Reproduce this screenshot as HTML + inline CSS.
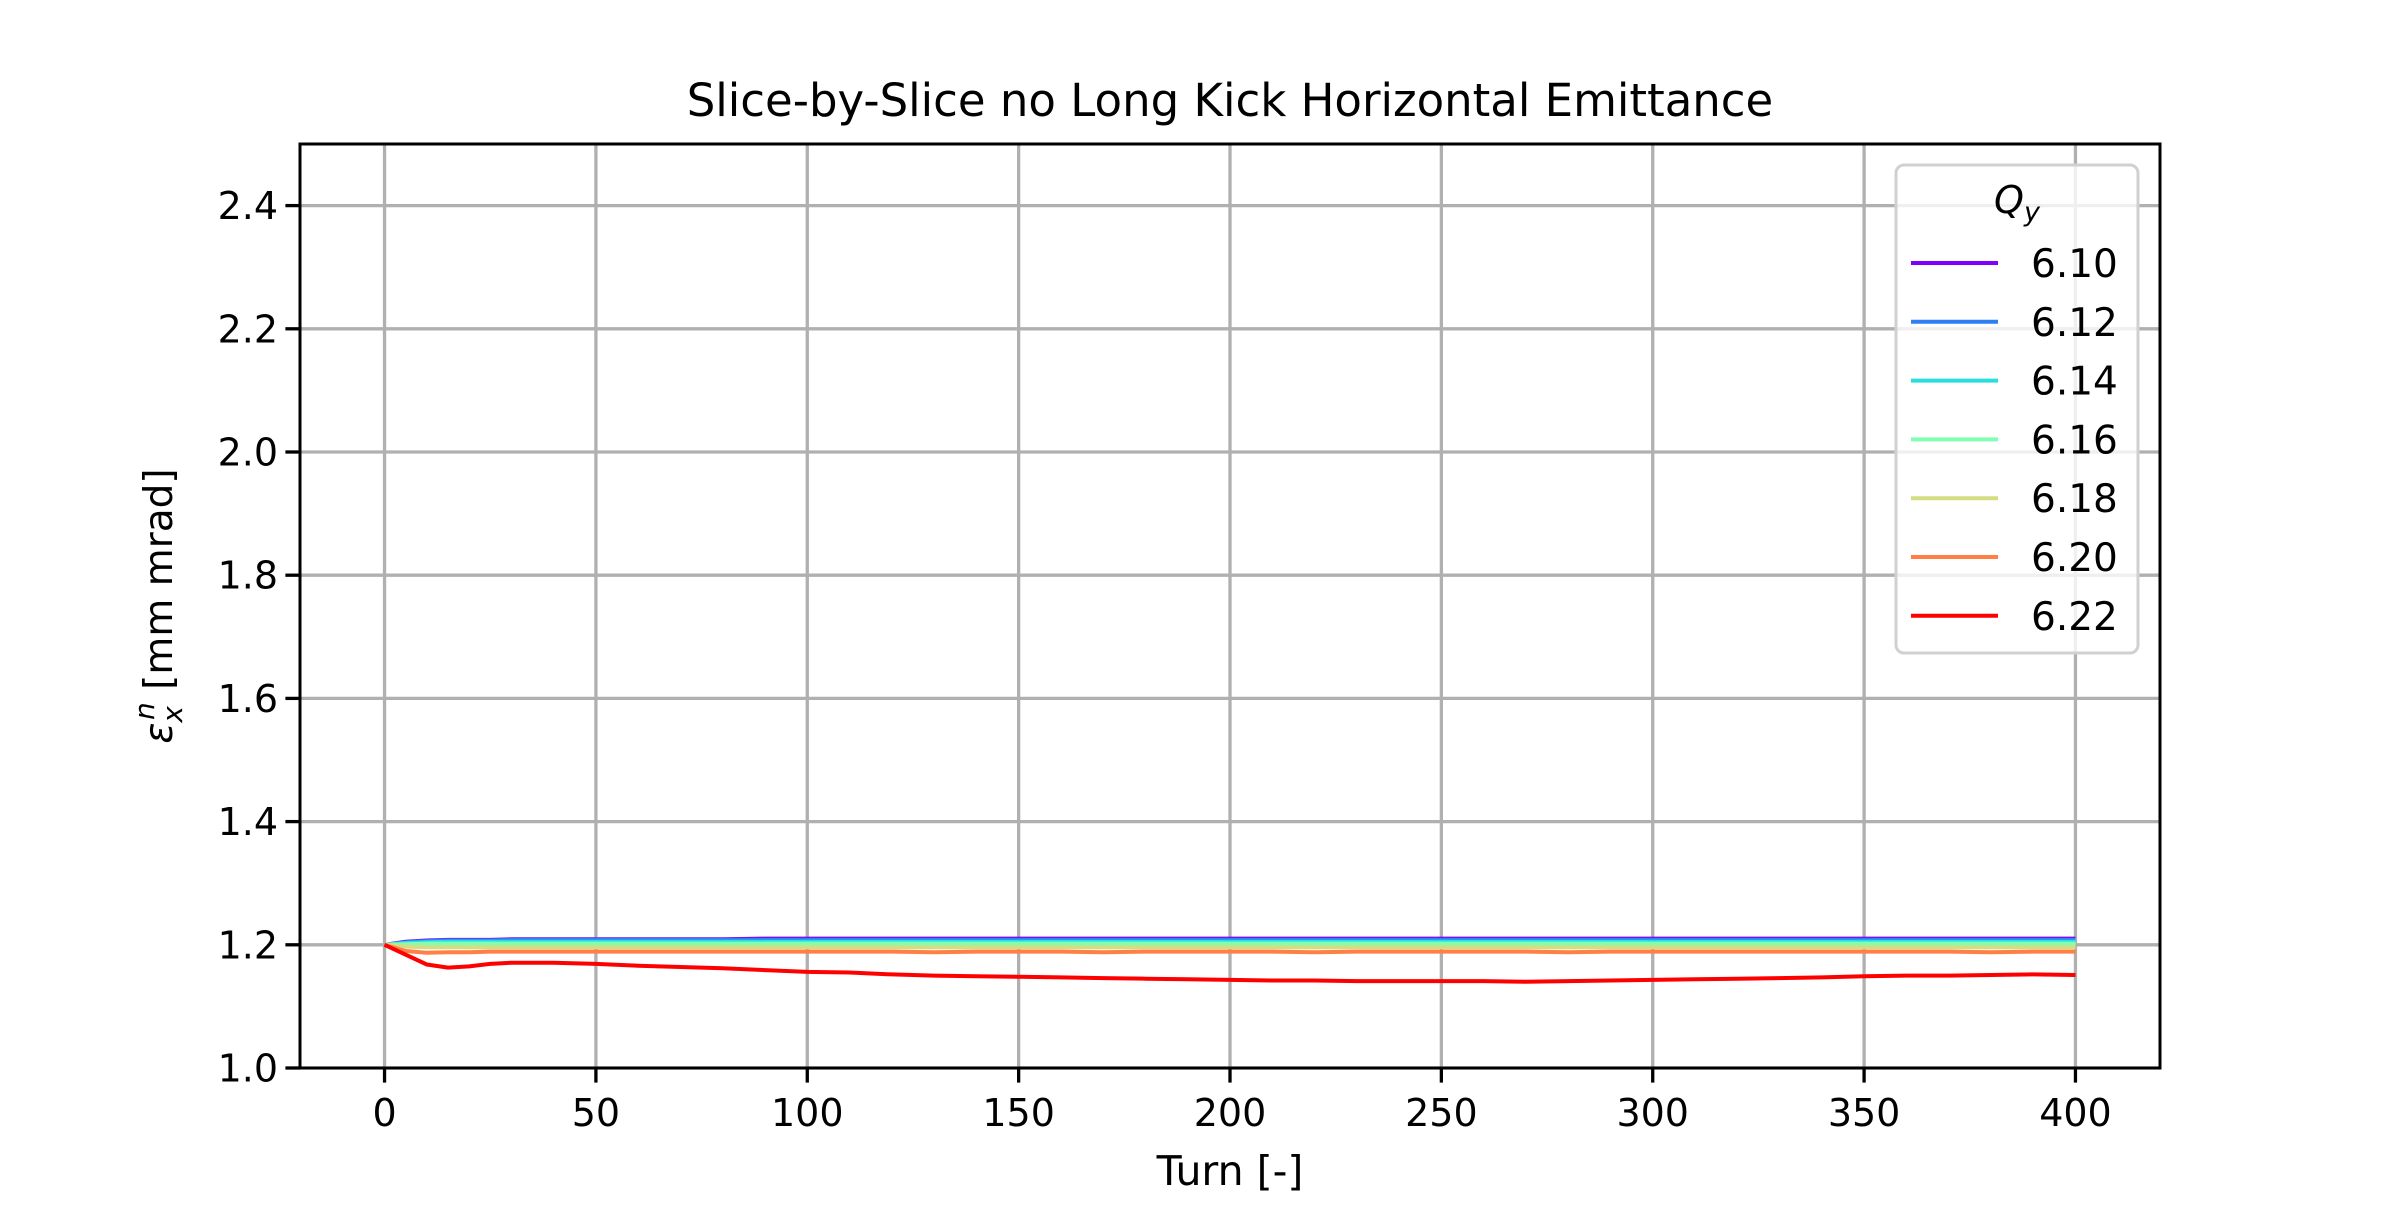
<!DOCTYPE html>
<html><head><meta charset="utf-8"><style>
html,body{margin:0;padding:0;background:#fff;}
svg text{font-family:"DejaVu Sans","Liberation Sans",sans-serif;fill:#000;}
</style></head><body>
<svg id="chart" width="2400" height="1200" viewBox="0 0 2400 1200" xmlns="http://www.w3.org/2000/svg">
<rect x="0" y="0" width="2400" height="1200" fill="#fff"/>
<g id="grid"></g>
<g id="series"></g>
<rect x="300" y="144" width="1860" height="924" fill="none" stroke="#000" stroke-width="3"/>
<g id="ticks"></g>
<text x="1230" y="116" font-size="45" text-anchor="middle">Slice-by-Slice no Long Kick Horizontal Emittance</text>
<text x="1230" y="1185" font-size="41" text-anchor="middle">Turn [-]</text>
<text transform="translate(172,606) rotate(-90)" font-size="39" text-anchor="middle"><tspan font-style="italic">ε</tspan><tspan font-style="italic" font-size="28" dy="10">x</tspan><tspan font-style="italic" font-size="28" dy="-28" dx="-14">n</tspan><tspan dy="18"> [mm mrad]</tspan></text>
<g id="legend">
<rect x="1896" y="165" width="242" height="488" rx="8" fill="#fff" fill-opacity="0.8" stroke="#d0d0d0" stroke-width="3"/>
<text x="2017" y="213" font-size="38" text-anchor="middle" font-style="italic">Q<tspan font-size="27" dy="8">y</tspan></text>
</g>
</svg>
<script>
const turns=[0,5,10,15,20,25,30,35,40,50,60,70,80,90,100,110,120,130,140,150,160,170,180,190,200,210,220,230,240,250,260,270,280,290,300,310,320,330,340,350,360,370,380,390,400];
const labels=["6.10","6.12","6.14","6.16","6.18","6.20","6.22"];
const colors=["#8000ff","#2f7ff3","#2adddd","#80ffb4","#d4dd80","#ff7f45","#ff0000"];
const s610=[1.2,1.205,1.207,1.208,1.208,1.208,1.209,1.209,1.209,1.209,1.209,1.209,1.209,1.21,1.21,1.21,1.21,1.21,1.21,1.21,1.21,1.21,1.21,1.21,1.21,1.21,1.21,1.21,1.21,1.21,1.21,1.21,1.21,1.21,1.21,1.21,1.21,1.21,1.21,1.21,1.21,1.21,1.21,1.21,1.21];
const s612=[1.2,1.204,1.206,1.207,1.207,1.207,1.208,1.208,1.208,1.208,1.208,1.208,1.208,1.208,1.208,1.208,1.208,1.208,1.208,1.208,1.208,1.208,1.208,1.208,1.208,1.208,1.208,1.208,1.208,1.208,1.208,1.208,1.208,1.208,1.208,1.208,1.208,1.208,1.208,1.208,1.208,1.208,1.208,1.208,1.208];
const s614=[1.2,1.203,1.204,1.205,1.205,1.205,1.205,1.205,1.205,1.205,1.205,1.205,1.205,1.205,1.205,1.205,1.205,1.205,1.205,1.205,1.205,1.205,1.205,1.205,1.205,1.205,1.205,1.205,1.205,1.205,1.205,1.205,1.205,1.205,1.205,1.205,1.205,1.205,1.205,1.205,1.205,1.205,1.205,1.205,1.205];
const s616=[1.2,1.201,1.202,1.202,1.202,1.202,1.202,1.202,1.202,1.202,1.202,1.202,1.202,1.202,1.202,1.202,1.202,1.202,1.202,1.202,1.202,1.202,1.202,1.202,1.202,1.202,1.202,1.202,1.202,1.202,1.202,1.202,1.202,1.202,1.202,1.202,1.202,1.202,1.202,1.202,1.202,1.202,1.202,1.202,1.202];
const s618=[1.2,1.197,1.196,1.196,1.196,1.196,1.196,1.196,1.196,1.196,1.196,1.196,1.196,1.196,1.196,1.196,1.196,1.196,1.196,1.196,1.196,1.196,1.196,1.196,1.196,1.196,1.196,1.196,1.196,1.196,1.196,1.196,1.196,1.196,1.196,1.196,1.196,1.196,1.196,1.196,1.196,1.196,1.196,1.196,1.196];
const s620=[1.2,1.19,1.187,1.188,1.188,1.189,1.189,1.189,1.189,1.189,1.189,1.189,1.189,1.189,1.189,1.189,1.189,1.188,1.189,1.189,1.189,1.188,1.189,1.189,1.189,1.189,1.188,1.189,1.189,1.189,1.189,1.189,1.188,1.189,1.189,1.189,1.189,1.189,1.189,1.189,1.189,1.189,1.188,1.189,1.189];
const s622=[1.2,1.184,1.168,1.163,1.165,1.169,1.171,1.171,1.171,1.169,1.166,1.164,1.162,1.159,1.156,1.155,1.152,1.150,1.149,1.148,1.147,1.146,1.145,1.144,1.143,1.142,1.142,1.141,1.141,1.141,1.141,1.140,1.141,1.142,1.143,1.144,1.145,1.146,1.147,1.149,1.150,1.150,1.151,1.152,1.151];
const series=[s610,s612,s614,s616,s618,s620,s622];
const xTicks=[0,50,100,150,200,250,300,350,400];
const yTicks=[1.0,1.2,1.4,1.6,1.8,2.0,2.2,2.4];
const yTickLabels=["1.0","1.2","1.4","1.6","1.8","2.0","2.2","2.4"];

const X0=300,X1=2160,Y0=1068,Y1=144,xMin=-20,xMax=420,yMin=1.0,yMax=2.5;
function sx(v){return X0+(v-xMin)/(xMax-xMin)*(X1-X0);}
function sy(v){return Y0-(v-yMin)/(yMax-yMin)*(Y0-Y1);}
const NS="http://www.w3.org/2000/svg";
function mk(tag,attrs,parent){const e=document.createElementNS(NS,tag);for(const k in attrs)e.setAttribute(k,attrs[k]);parent.appendChild(e);return e;}
const grid=document.getElementById('grid'),ticks=document.getElementById('ticks'),sg=document.getElementById('series'),leg=document.getElementById('legend');
xTicks.forEach(t=>{
  const x=sx(t);
  const g=mk('line',{x1:x,x2:x,y1:Y1,y2:Y0,stroke:'#b0b0b0','stroke-width':3.3},grid);
  
  
  const tk=mk('line',{x1:x,x2:x,y1:Y0,y2:Y0+14.6,stroke:'#000','stroke-width':3.3},ticks);
  
  
  const tl=mk('text',{x:x,y:Y0+58,'font-size':38,'text-anchor':'middle'},ticks);
  tl.textContent=String(t);
  
  
});
yTicks.forEach((t,i)=>{
  const y=sy(t);
  const g=mk('line',{x1:X0,x2:X1,y1:y,y2:y,stroke:'#b0b0b0','stroke-width':3.3},grid);
  
  
  const tk=mk('line',{x1:X0-14.6,x2:X0,y1:y,y2:y,stroke:'#000','stroke-width':3.3},ticks);
  
  
  const tl=mk('text',{x:X0-22,y:y+13.5,'font-size':38,'text-anchor':'end'},ticks);
  tl.textContent=yTickLabels[i];
  
  
});
series.forEach((vals,i)=>{
  const d=vals.map((v,j)=>(j?'L':'M')+sx(turns[j]).toFixed(1)+','+sy(v).toFixed(1)).join(' ');
  const p=mk('path',{d:d,fill:'none',stroke:colors[i],'stroke-width':4,'stroke-linejoin':'round'},sg);
  
  
  const ly=263+i*58.8;
  const h=mk('line',{x1:1911,x2:1998,y1:ly,y2:ly,stroke:colors[i],'stroke-width':4},leg);
  
  
  const t=mk('text',{x:2031,y:ly+14,'font-size':39},leg);
  t.textContent=labels[i];
  
  
});
</script>
</body></html>
